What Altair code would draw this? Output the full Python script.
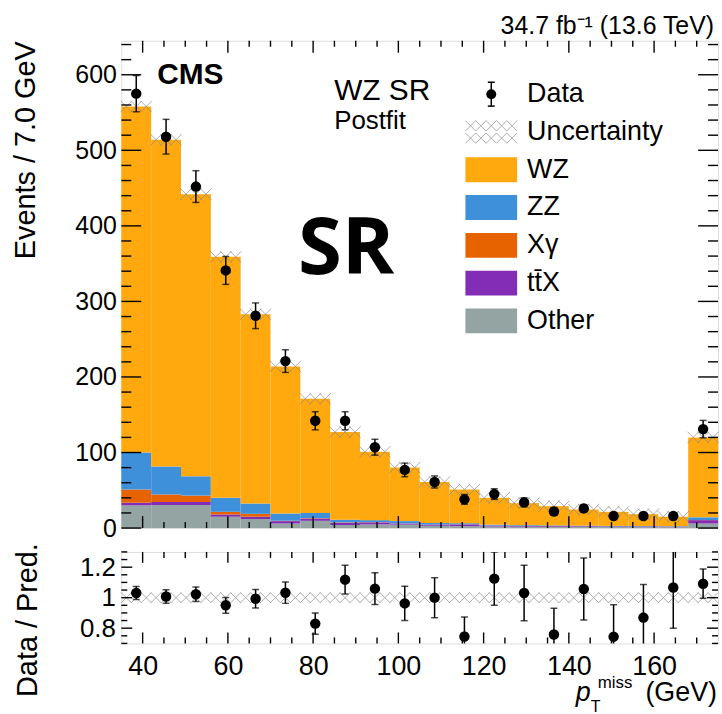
import altair as alt
import pandas as pd

# ---------------- data ----------------
bin_lo = [35, 42, 49, 56, 63, 70, 77, 84, 91, 98, 105, 112, 119, 126, 133, 140, 147, 154, 161, 168]
bin_width = 7

wz = [458, 432.5, 373.5, 319, 250.5, 194.7, 151, 116, 90.5, 70.8, 54.3, 44.5, 35.5, 29.1, 25.5, 21.4, 18.6, 15.7, 12.5, 105.8]
zz = [49, 37, 25.5, 18.5, 13.7, 9.6, 7, 3.5, 2.7, 3, 2, 1.5, 1.2, 1, 0.8, 0.7, 0.6, 0.5, 0.5, 3.5]
xgamma = [17.5, 10, 8.5, 3.5, 3.8, 0.5, 0.5, 0.5, 0.3, 0.2, 0.2, 0.2, 0.1, 0.1, 0.1, 0.1, 0.1, 0.1, 0.1, 0.2]
ttx = [3.5, 4, 4, 3, 3, 3.2, 3, 3, 2.7, 1.5, 1.5, 2.2, 1.2, 1, 1, 0.9, 0.8, 0.8, 0.7, 4.5]
other = [30, 30.5, 30.5, 15, 12, 6, 9.6, 4, 4.8, 4.5, 3, 2.6, 2, 1.8, 1.6, 1.5, 1.4, 1.3, 1.2, 6]

data = [575, 518, 452, 341, 281, 221, 142, 142, 107, 77, 61, 38, 45, 34, 22, 26, 16, 16, 16, 131]
data_err = [24, 23, 21, 18.5, 17, 15, 12, 12, 10.5, 9, 8, 6.5, 7, 6, 5, 5, 4.5, 4, 4, 11.5]

proc_names = ["Other", "tt\u0304X", "X\u03b3", "ZZ", "WZ"]
proc_colors = ["#94a4a2", "#832db6", "#e76300", "#3f90da", "#ffa90e"]
proc_values = [other, ttx, xgamma, zz, wz]

legend_labels = ["Data", "Uncertainty", "WZ", "ZZ", "X\u03b3", "tt\u0304X", "Other"]
legend_colors = [None, None, "#ffa90e", "#3f90da", "#e76300", "#832db6", "#94a4a2"]

main_y_major = [0, 100, 200, 300, 400, 500, 600]
main_y_minor = [v for v in range(20, 645, 20) if v % 100 != 0]
x_major = [40, 60, 80, 100, 120, 140, 160]
x_minor = [v for v in range(40, 175, 5) if v % 20 != 0]
ratio_y_major = [0.8, 1.0, 1.2]
ratio_y_minor = [0.7, 0.75, 0.85, 0.9, 0.95, 1.05, 1.1, 1.15, 1.25, 1.3]

# ---------------- tables ----------------
rows = []
for i, lo in enumerate(bin_lo):
    for order, (name, vals) in enumerate(zip(proc_names, proc_values)):
        rows.append(dict(lo=lo, hi=lo + bin_width, proc=name, val=vals[i], order=order))
stack_df = pd.DataFrame(rows)

total = [sum(v[i] for v in proc_values) for i in range(len(bin_lo))]
bins_df = pd.DataFrame({
    "lo": bin_lo,
    "center": [lo + bin_width / 2 for lo in bin_lo],
    "total": total,
    "data": data,
    "err": data_err,
})
bins_df["dlo"] = bins_df["data"] - bins_df["err"]
bins_df["dhi"] = bins_df["data"] + bins_df["err"]
bins_df["ratio"] = bins_df["data"] / bins_df["total"]
bins_df["rlo"] = (bins_df["data"] - bins_df["err"]) / bins_df["total"]
bins_df["rhi"] = (bins_df["data"] + bins_df["err"]) / bins_df["total"]

hatch_rows = []
for i, lo in enumerate(bin_lo):
    for k in range(3):
        hatch_rows.append(dict(x=lo + (k + 0.5) * bin_width / 3, total=total[i], one=1.0))
hatch_df = pd.DataFrame(hatch_rows)

# ---------------- styling ----------------
FONT = "Liberation Sans"
W = 600
H_MAIN = 490
H_RAT = 92
XPATH = "M-1,-1L1,1M-1,1L1,-1"
HATCH_COLOR = "#8a8a8a"

XS = alt.Scale(domain=[35, 175], nice=False, zero=False)
YS = alt.Scale(domain=[0, 645], nice=False, zero=True)
RS = alt.Scale(domain=[0.7, 1.3], nice=False, zero=False)

main_yaxis = alt.Axis(values=main_y_major, format="d", labelFontSize=25, labelPadding=5,
                      ticks=False, tickSize=0, domain=False, grid=False,
                      labelColor="black", labelFont=FONT,
                      title="Events / 7.0 GeV", titleFontSize=29, titleFontWeight="normal",
                      titleFont=FONT, titleColor="black", titleAnchor="end",
                      titleX=-96, titleBaseline="middle")
rat_yaxis = alt.Axis(values=ratio_y_major, format="~g", labelFontSize=26, labelPadding=6,
                     ticks=False, tickSize=0, domain=False, grid=False,
                     labelColor="black", labelFont=FONT,
                     title="Data / Pred.", titleFontSize=29, titleFontWeight="normal",
                     titleFont=FONT, titleColor="black", titleX=-94, titleY=68,
                     titleAlign="center", titleBaseline="middle")
rat_xaxis = alt.Axis(values=x_major, format="d", labelFontSize=27, labelPadding=10,
                     ticks=False, tickSize=0, domain=False, grid=False,
                     labelColor="black", labelFont=FONT, title=None)


def MX(f):
    return alt.X(f, scale=XS, axis=None)


def MY(f):
    return alt.Y(f, scale=YS, axis=main_yaxis)


def RX(f):
    return alt.X(f, scale=XS, axis=rat_xaxis)


def RY(f):
    return alt.Y(f, scale=RS, axis=rat_yaxis)


def one():
    return pd.DataFrame({"a": [0]})


def text(t, x, y, size, align="left", baseline="alphabetic", weight="normal", style="normal", font=FONT):
    return alt.Chart(one()).mark_text(text=t, fontSize=size, align=align, baseline=baseline,
                                      fontWeight=weight, fontStyle=style, font=font,
                                      color="black").encode(x=alt.value(x), y=alt.value(y))


def tick_layers(xq, yq, ydf_major, ydf_minor, xdf_major, xdf_minor, ymaj, ymin, xmaj, xmin, H):
    layers = []
    for vals, ln in ((ydf_major, ymaj), (ydf_minor, ymin)):
        df = pd.DataFrame({"v": vals})
        layers.append(alt.Chart(df).mark_rule(color="black", strokeWidth=1.4).encode(
            y=yq("v:Q"), x=alt.value(0), x2=alt.value(ln)))
        layers.append(alt.Chart(df).mark_rule(color="black", strokeWidth=1.4).encode(
            y=yq("v:Q"), x=alt.value(W - ln), x2=alt.value(W)))
    for vals, ln in ((xdf_major, xmaj), (xdf_minor, xmin)):
        df = pd.DataFrame({"v": vals})
        layers.append(alt.Chart(df).mark_rule(color="black", strokeWidth=1.4).encode(
            x=xq("v:Q"), y=alt.value(H - ln), y2=alt.value(H)))
        layers.append(alt.Chart(df).mark_rule(color="black", strokeWidth=1.4).encode(
            x=xq("v:Q"), y=alt.value(0), y2=alt.value(ln)))
    return layers


# ---------------- main panel ----------------
bars = alt.Chart(stack_df).transform_stack(
    stack="val", groupby=["lo"], as_=["y0", "y1"],
    sort=[alt.SortField("order", order="ascending")]
).mark_rect(strokeWidth=0).encode(
    x=MX("lo:Q"), x2="hi:Q",
    y=MY("y0:Q"), y2="y1:Q",
    color=alt.Color("proc:N", scale=alt.Scale(domain=proc_names, range=proc_colors), legend=None),
)

hatch_main = alt.Chart(hatch_df).mark_point(shape=XPATH, size=130, color=HATCH_COLOR,
                                            strokeWidth=1, filled=False).encode(
    x=MX("x:Q"), y=MY("total:Q"))

err_main = alt.Chart(bins_df).mark_rule(color="black", strokeWidth=1.5).encode(
    x=MX("center:Q"), y=MY("dlo:Q"), y2="dhi:Q")
cap_lo = alt.Chart(bins_df).mark_tick(orient="horizontal", size=7, thickness=1.5, color="black").encode(
    x=MX("center:Q"), y=MY("dlo:Q"))
cap_hi = alt.Chart(bins_df).mark_tick(orient="horizontal", size=7, thickness=1.5, color="black").encode(
    x=MX("center:Q"), y=MY("dhi:Q"))
pts_main = alt.Chart(bins_df).mark_circle(size=110, color="black", opacity=1).encode(
    x=MX("center:Q"), y=MY("data:Q"))

main_layers = [bars, hatch_main, err_main, cap_lo, cap_hi, pts_main]
main_layers += tick_layers(MX, MY, main_y_major, main_y_minor, x_major, x_minor, 20, 10, 12, 6, H_MAIN)

# texts
main_layers.append(text("34.7 fb\u207b\u00b9 (13.6 TeV)", W - 4, -7, 25, align="right"))
main_layers.append(text("CMS", 36, 43, 30, weight="bold"))
main_layers.append(text("WZ SR", 214, 60, 30))
main_layers.append(text("Postfit", 214, 89, 26))
main_layers.append(text("SR", 226, 235, 80, align="center", weight="bold", font="Open Sans"))

# legend
LX0, LX1 = 346, 398
LTX = 408
row_y = [53.7 + 38 * i for i in range(len(legend_labels))]
for i, (lab, col) in enumerate(zip(legend_labels, legend_colors)):
    yc = row_y[i]
    if col is not None:
        main_layers.append(alt.Chart(one()).mark_rect(color=col).encode(
            x=alt.value(LX0), x2=alt.value(LX1), y=alt.value(yc - 12.5), y2=alt.value(yc + 12.5)))
    main_layers.append(text(lab, LTX, yc, 27, baseline="middle"))

# data legend symbol
dx = (LX0 + LX1) / 2
main_layers.append(alt.Chart(one()).mark_rule(color="black", strokeWidth=1.5).encode(
    x=alt.value(dx), y=alt.value(row_y[0] - 12), y2=alt.value(row_y[0] + 12)))
for yy in (row_y[0] - 12, row_y[0] + 12):
    main_layers.append(alt.Chart(one()).mark_rule(color="black", strokeWidth=1.5).encode(
        x=alt.value(dx - 3.5), x2=alt.value(dx + 3.5), y=alt.value(yy)))
main_layers.append(alt.Chart(one()).mark_circle(size=100, color="black", opacity=1).encode(
    x=alt.value(dx), y=alt.value(row_y[0])))
# uncertainty legend hatch
cw = (LX1 - LX0) / 5
for c in range(5):
    for r in (-6.2, 6.2):
        main_layers.append(alt.Chart(one()).mark_point(shape=XPATH, size=cw * cw, color=HATCH_COLOR,
                                                       strokeWidth=1, filled=False).encode(
            x=alt.value(LX0 + cw * (c + 0.5)), y=alt.value(row_y[1] + r)))

main = alt.layer(*main_layers).properties(width=W, height=H_MAIN)

# ---------------- ratio panel ----------------
hatch_rat = alt.Chart(hatch_df).mark_point(shape=XPATH, size=110, color=HATCH_COLOR,
                                           strokeWidth=1, filled=False).encode(
    x=RX("x:Q"), y=RY("one:Q"))
err_rat = alt.Chart(bins_df).mark_rule(color="black", strokeWidth=1.5, clip=True).encode(
    x=RX("center:Q"), y=RY("rlo:Q"), y2="rhi:Q")
rcap_lo = alt.Chart(bins_df).mark_tick(orient="horizontal", size=7, thickness=1.5, color="black", clip=True).encode(
    x=RX("center:Q"), y=RY("rlo:Q"))
rcap_hi = alt.Chart(bins_df).mark_tick(orient="horizontal", size=7, thickness=1.5, color="black", clip=True).encode(
    x=RX("center:Q"), y=RY("rhi:Q"))
pts_rat = alt.Chart(bins_df).mark_circle(size=110, color="black", opacity=1, clip=True).encode(
    x=RX("center:Q"), y=RY("ratio:Q"))

rat_layers = [hatch_rat, err_rat, rcap_lo, rcap_hi, pts_rat]
rat_layers += tick_layers(RX, RY, ratio_y_major, ratio_y_minor, x_major, x_minor, 11, 6, 11, 6, H_RAT)
rat_layers.append(text("(GeV)", W - 1, 150, 27, align="right"))
rat_layers.append(text("p", 457, 150, 27, style="italic"))
rat_layers.append(text("miss", 479, 137, 17))
rat_layers.append(text("T", 472, 161, 16))

ratio = alt.layer(*rat_layers).properties(width=W, height=H_RAT)

chart = alt.vconcat(main, ratio, spacing=24, bounds="flush").properties(
    padding={"left": 11, "top": 11, "right": 0, "bottom": 0},
    background="white",
).configure_view(stroke="black", strokeWidth=2).configure(font=FONT)

chart.save("out.html", embed_options={"renderer": "svg", "actions": False})
